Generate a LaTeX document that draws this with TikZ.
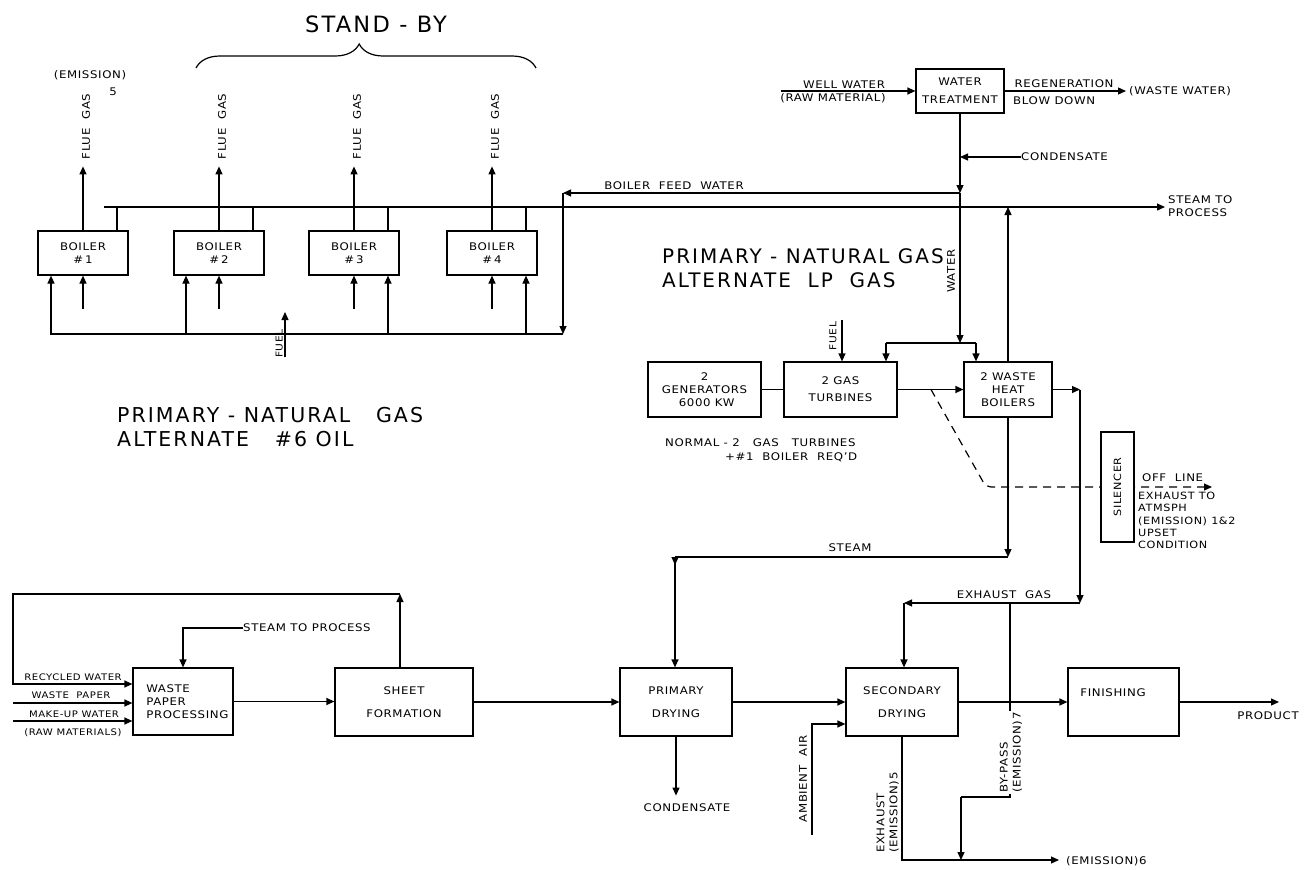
\documentclass[tikz,border=0pt]{standalone}
\usepackage{fontspec}
\setmainfont{DejaVu Sans}[FakeStretch=1.12,LetterSpace=6]
\newfontfamily\largef{DejaVu Sans}[LetterSpace=10]
\usetikzlibrary{arrows.meta,decorations.pathreplacing,calc}
\tikzset{
  ln/.style={line width=1.2pt},
  arr/.style={line width=1.2pt,-{Triangle[length=8pt,width=7pt]}},
  dasharr/.style={line width=1.2pt,dash pattern=on 8pt off 6pt,-{Triangle[length=8pt,width=7pt]}},
  box/.style={draw,line width=1.2pt,align=center,inner sep=0pt,font=\fontsize{10.5}{13}\selectfont},
  lab/.style={inner sep=0pt,font=\fontsize{10.5}{13}\selectfont},
  smalllab/.style={inner sep=0pt,font=\fontsize{9}{10}\selectfont},
  biglab/.style={inner sep=0pt,align=left,font=\largef\fontsize{20.5}{24}\selectfont}
}
\begin{document}
\begin{tikzpicture}[x=1pt,y=-1pt]
\fill[white] (0,0) rectangle (1312,870);
\useasboundingbox (0,0) rectangle (1312,870);

% ---------------- boilers ----------------
\node[lab,font=\largef\fontsize{22.5}{24}\selectfont] (standby) at (376,24) {STAND - BY};
\draw[ln,decorate,decoration={brace,amplitude=24pt,aspect=0.48}] (196,68) -- (536,68);
\node[lab] (em5a) at (90,75) {(EMISSION)};
\node[lab] (em5b) at (113,92) {5};

\node[box,minimum width=90pt,minimum height=44pt] (b1) at (83,253) {BOILER\\\#\,1};
\node[box,minimum width=90pt,minimum height=44pt] (b2) at (219,253) {BOILER\\\#\,2};
\node[box,minimum width=90pt,minimum height=44pt] (b3) at (354,253) {BOILER\\\#\,3};
\node[box,minimum width=90pt,minimum height=44pt] (b4) at (492,253) {BOILER\\\#\,4};

\coordinate (hL) at (104,207);
\coordinate (hR) at (1165,207);
\draw[arr] (hL) -- (hR);
\node[lab,anchor=west,align=left] (stp1) at (1168,206) {STEAM TO\\PROCESS};

\foreach \b in {b1,b2,b3,b4}{
  \draw[arr] (\b.north) -- ++(0,-64);
  \node[lab,rotate=90] at ($(\b.north)+(3,-104)$) {FLUE\ \ GAS};
  \draw[ln] ([xshift=34pt]\b.north) -- ([xshift=34pt]\b.north |- hL);
  \draw[arr] ([yshift=-33pt]\b.south) -- (\b.south);
}

\coordinate (fL) at (51,334);
\coordinate (fR) at (563,334);
\draw[arr] (fR) -- (fL) -- ([xshift=-32pt]b1.south);
\draw[arr] ([xshift=-33pt]b2.south |- fL) -- ([xshift=-33pt]b2.south);
\draw[arr] ([xshift=34pt]b3.south |- fL) -- ([xshift=34pt]b3.south);
\draw[arr] ([xshift=34pt]b4.south |- fL) -- ([xshift=34pt]b4.south);

\coordinate (fuel1) at (285,357);
\draw[arr] (fuel1) -- ++(0,-45);
\node[lab,rotate=90,font=\fontsize{9.5}{10}\selectfont,anchor=south west] (fuel1lab) at (283,358) {FUEL};

\node[biglab,anchor=north west] (oil) at (117,407) {PRIMARY - NATURAL\ \ \ GAS\\ALTERNATE\ \ \ \#6 OIL};

% ---------------- water treatment ----------------
\node[box,minimum width=88pt,minimum height=44pt] (wt) at (960,91) {WATER\\[5pt]TREATMENT};
\coordinate (ww) at (781,91);
\draw[arr] (ww) -- (wt.west);
\node[lab] (wwlab) at (844,85) {WELL WATER};
\node[lab] (rmlab) at (833,98) {(RAW MATERIAL)};
\coordinate (wst) at (1126,91);
\draw[arr] (wt.east) -- (wst);
\node[lab] (regen) at (1064,84) {REGENERATION};
\node[lab,anchor=west] (blow) at (1013,101) {BLOW DOWN};
\node[lab,anchor=west] (wwater) at (1129,91) {(WASTE WATER)};

\coordinate (fwj) at (960,193);
\coordinate (fwc) at (563,193);
\draw[arr] (wt.south) -- (fwj);
\draw[arr] (fwj) -- (fwc);
\draw[arr] (fwc) -- (fR);
\node[lab] (bfw) at (674,186) {BOILER\ \ FEED\ \ WATER};

\node[lab,anchor=west] (cond1) at (1021,157) {CONDENSATE};
\draw[arr] (cond1.west) -- (cond1.west -| fwj);

\coordinate (spl) at (960,343);
\draw[arr] (fwj) -- (spl);
\node[lab,rotate=90] (waterlab) at (951,271) {WATER};

\node[biglab,anchor=north west,font=\largef\fontsize{20}{24}\selectfont] (lp) at (662,248) {PRIMARY - NATURAL GAS\\ALTERNATE\ \ LP\ \ GAS};

% ---------------- turbines ----------------
\node[box,minimum width=113pt,minimum height=55pt] (gen) at (704.5,389.5) {2\\GENERATORS\\\ 6000 KW};
\node[box,minimum width=113pt,minimum height=55pt] (gt) at (840.5,389.5) {2 GAS\\[4pt]TURBINES};
\node[box,minimum width=88pt,minimum height=55pt] (whb) at (1008,389.5) {2 WASTE\\HEAT\\BOILERS};

\coordinate (spA) at (886,343);
\coordinate (spB) at (976,343);
\draw[ln] (spA) -- (spB);
\draw[arr] (spA) -- (spA |- gt.north);
\draw[arr] (spB) -- (spB |- whb.north);

\coordinate (fuel2) at (842,320);
\draw[arr] (fuel2) -- (fuel2 |- gt.north);
\node[lab,rotate=90,font=\fontsize{9.5}{10}\selectfont] (fuel2lab) at (833,336) {FUEL};

\draw[ln] (gen) -- (gt);
\draw[arr] (gt) -- (whb);
\draw[arr] (whb.north) -- (whb.north |- hL);

\node[lab,anchor=west] (norm1) at (665,443) {NORMAL - 2\ \ \ GAS\ \ \ TURBINES};
\node[lab,anchor=west] (norm2) at (725,457) {+\#1\ \ BOILER\ \ REQ'D};

% dashed off-line exhaust
\coordinate (ds) at (931,389.5);
\coordinate (dk) at (986,487);
\coordinate (de) at (1212,487);
\draw[dasharr,rounded corners=5pt] (ds) -- (dk) -- (de);
\node[draw,fill=white,line width=1.2pt,rotate=90,minimum width=110pt,minimum height=33pt,inner sep=0pt,font=\fontsize{10}{12}\selectfont] (sil) at (1117.5,487) {SILENCER};
\node[lab,anchor=west] (offline) at (1142,478) {OFF\ \ LINE};
\node[lab,anchor=north west,align=left,font=\fontsize{10}{12.2}\selectfont] (exatm) at (1138,492) {EXHAUST TO\\ATMSPH\\(EMISSION) 1\&2\\UPSET\\CONDITION};

% exhaust gas from WHB
\coordinate (ex1) at (1080,389.5);
\coordinate (ex2) at (1080,603);
\coordinate (ex3) at (904,603);
\draw[arr] (whb.east) -- (ex1);
\draw[arr] (ex1) -- (ex2);
\draw[arr] (ex2) -- (ex3);
\node[lab] (exgas) at (1004,595) {EXHAUST\ \ GAS};

% ---------------- bottom row ----------------
\node[box,minimum width=100pt,minimum height=67pt,align=left] (wpp) at (183,701.5) {\ \ WASTE\\\ \ PAPER\\\ \ PROCESSING};
\node[box,minimum width=138pt,minimum height=68pt] (sf) at (404,702) {SHEET\\[10pt]FORMATION};
\node[box,minimum width=112pt,minimum height=68pt] (pd) at (676,702) {PRIMARY\\[10pt]DRYING};
\node[box,minimum width=112pt,minimum height=68pt] (sd) at (902,702) {SECONDARY\\[10pt]DRYING};
\node[box,minimum width=111pt,minimum height=68pt] (fin) at (1123.5,702) {};
\node[lab] (finlab) at (1113,693) {FINISHING};

\draw[arr] (ex3) -- (ex3 |- sd.north);

% steam to primary drying
\coordinate (st2) at (675,557);
\draw[arr] (whb.south) -- (whb.south |- st2);
\draw[ln] (whb.south |- st2) -- (st2);
\draw[arr] (st2) -- ++(0,8);
\draw[arr] (st2) -- (st2 |- pd.north);
\node[lab] (steamlab) at (850,548) {STEAM};

\draw[arr] (pd.south) -- ++(0,59);
\node[lab] (cond2) at (687,808) {CONDENSATE};

\draw[arr] (wpp.east) -- (wpp.east -| sf.west);
\draw[arr] (sf) -- (pd);
\draw[arr] (pd) -- (sd);
\draw[arr] (sd) -- (fin);
\coordinate (prod) at (1279,702);
\draw[arr] (fin.east) -- (prod);
\node[lab] (prodlab) at (1268,716) {PRODUCT};

% ambient air
\coordinate (amb) at (812,835);
\coordinate (amb2) at (812,724);
\draw[arr] (amb) -- (amb2) -- (amb2 -| sd.west);
\node[lab,rotate=90] (amblab) at (803,779) {AMBIENT\ \ AIR};

% secondary drying exhaust and by-pass
\coordinate (em6a) at (902,860);
\coordinate (em6b) at (1059,860);
\draw[arr] (sd.south) -- (em6a) -- (em6b);
\node[lab,anchor=west] (em6lab) at (1066,861) {(EMISSION)6};
\node[lab,rotate=90,align=left,anchor=south west] (exlab) at (899,853) {EXHAUST\\(EMISSION)5};

\coordinate (bp1) at (1010,603);
\coordinate (bp2) at (1010,797);
\coordinate (bp3) at (961,797);
\draw[ln] (bp1) -- (bp2) -- (bp3);
\draw[arr] (bp3) -- (bp3 |- em6a);
\node[lab,rotate=90,align=left,anchor=west,fill=white,inner sep=1pt] (bplab) at (1011,794) {BY-PASS\\(EMISSION)7};

% waste paper inputs
\coordinate (rc1) at (400,594);
\coordinate (rc2) at (13,594);
\coordinate (rc3) at (13,684);
\draw[arr] (sf.north -| rc1) -- (rc1);
\draw[arr] (rc1) -- (rc2) -- (rc3) -- (rc3 -| wpp.west);
\coordinate (wpin) at (13,703);
\draw[arr] (wpin) -- (wpin -| wpp.west);
\coordinate (muin) at (13,721);
\draw[arr] (muin) -- (muin -| wpp.west);
\node[smalllab] (rwlab) at (73,677) {RECYCLED WATER};
\node[smalllab] (wplab) at (71,695) {WASTE\ \ PAPER};
\node[smalllab] (mulab) at (74,714) {MAKE-UP WATER};
\node[smalllab] (rmslab) at (73,733) {(RAW MATERIALS)};

\node[lab,anchor=west] (stp2) at (243,628) {STEAM TO PROCESS};
\draw[arr] (stp2.west) -- (stp2.west -| wpp.north) -- (wpp.north);
\end{tikzpicture}
\end{document}
